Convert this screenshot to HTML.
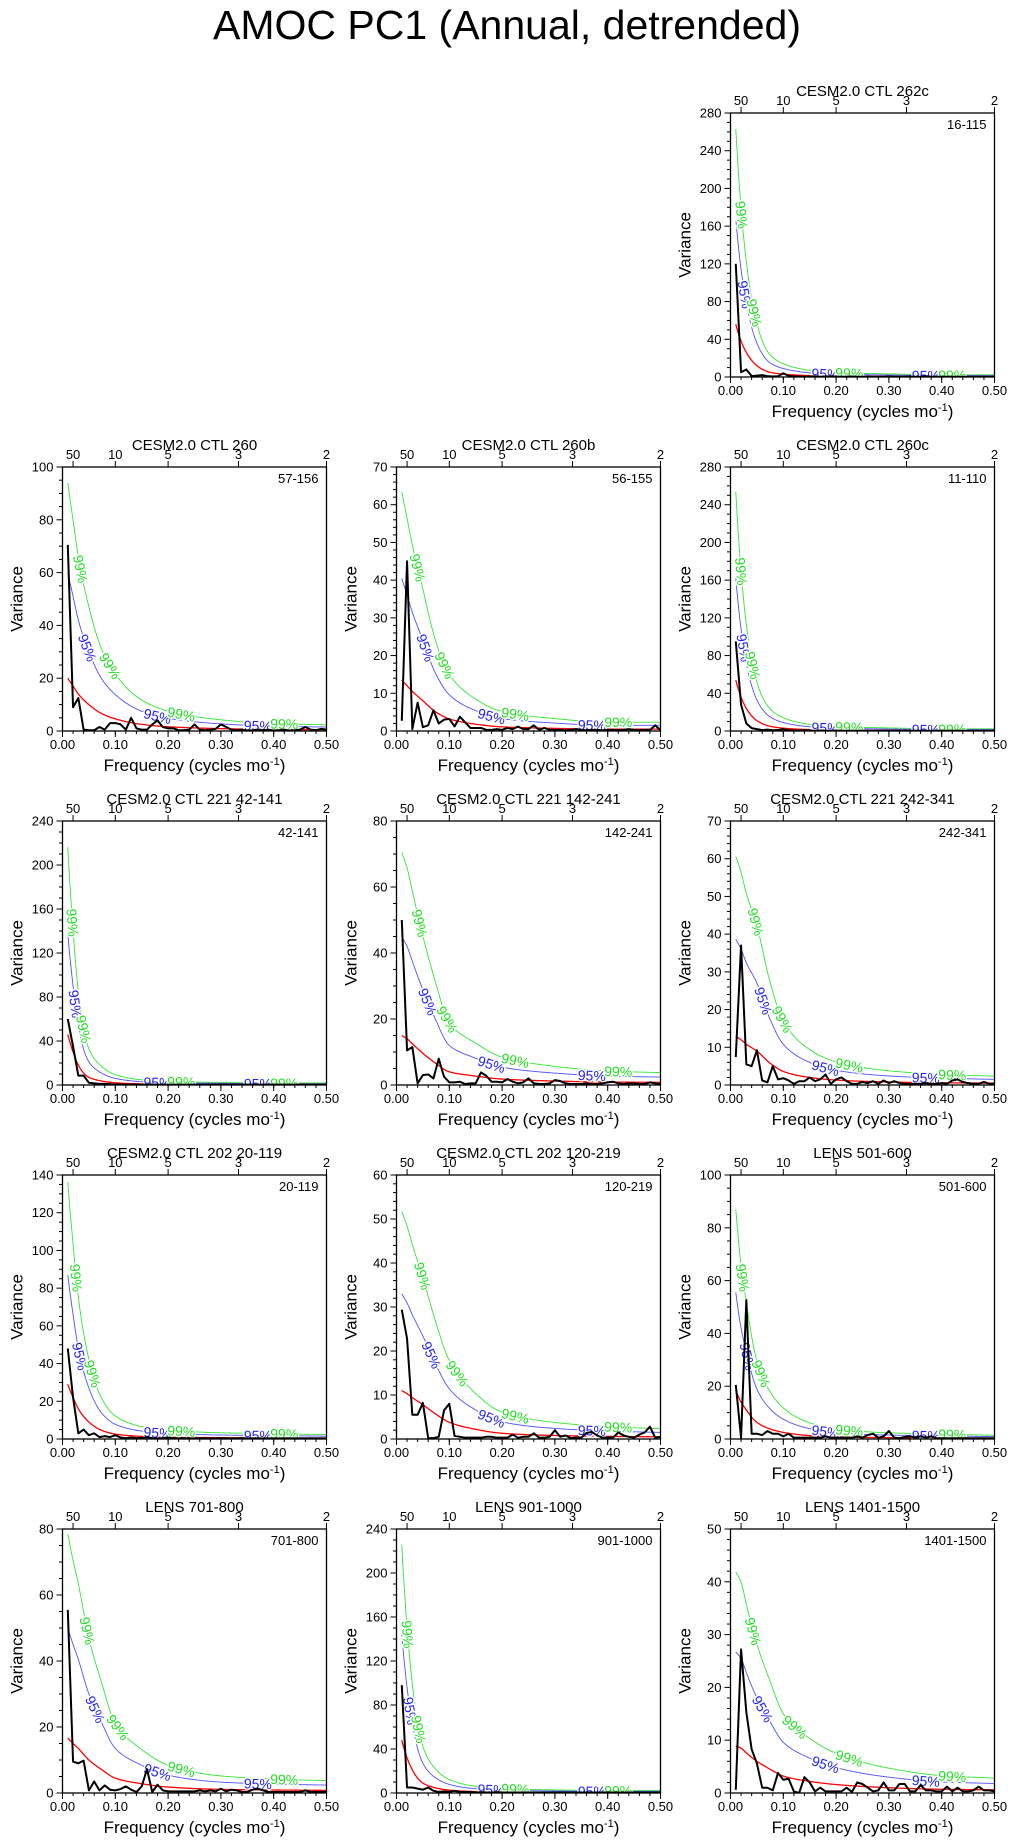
<!DOCTYPE html>
<html><head><meta charset="utf-8">
<style>
html,body{margin:0;padding:0;background:#fff;}
svg{display:block;font-family:"Liberation Sans",sans-serif;}
</style></head>
<body>
<svg id="fig" width="1013" height="1842" viewBox="0 0 1013 1842">
<text x="507" y="39" font-size="41" text-anchor="middle">AMOC PC1 (Annual, detrended)</text>
</svg>
<script>
// ---- data ----
const freqs = [];
for (let k = 1; k <= 50; k++) freqs.push(k / 100);
const redFreqs = [0.01,0.02,0.03,0.05,0.075,0.1,0.15,0.2,0.3,0.4,0.5];
const xTicks = [0,0.1,0.2,0.3,0.4,0.5];
const xTickLabels = ["0.00","0.10","0.20","0.30","0.40","0.50"];
const periodTicks = [50,10,5,3,2];
const blueFactor = 3.0;
const greenFactor = 4.7;

const titles = ["CESM2.0 CTL 262c","CESM2.0 CTL 260","CESM2.0 CTL 260b","CESM2.0 CTL 260c",
"CESM2.0 CTL 221 42-141","CESM2.0 CTL 221 142-241","CESM2.0 CTL 221 242-341",
"CESM2.0 CTL 202 20-119","CESM2.0 CTL 202 120-219","LENS 501-600",
"LENS 701-800","LENS 901-1000","LENS 1401-1500"];
const ranges = ["16-115","57-156","56-155","11-110","42-141","142-241","242-341","20-119","120-219","501-600","701-800","901-1000","1401-1500"];
const yMaxes = [280,100,70,280,240,80,70,140,60,100,80,240,50];
const ySteps = [40,20,10,40,40,20,10,20,10,20,20,40,10];

const red262c = [56,38,26,12,5,3,1.5,1,0.7,0.5,0.5];
const red260  = [20,17,14,10,6.5,4.6,2.5,1.6,0.9,0.6,0.5];
const red260b = [13.5,12,10.5,8,5,3.2,1.8,1.1,0.7,0.5,0.5];
const red260c = [54,36,24,11,5,3,1.5,1,0.7,0.5,0.5];
const red221a = [46,30,18,7,3.5,2,1,0.7,0.5,0.4,0.4];
const red221b = [15,14,12.5,9.6,6.5,4,2.7,1.8,1.2,0.9,0.8];
const red221c = [12.9,12,10.8,9,5.8,3.6,2,1.3,0.8,0.6,0.5];
const red202a = [29,22,16,9,4.5,2.6,1.4,1,0.7,0.6,0.5];
const red202b = [11,10.3,9.4,7.8,5.6,3.8,2.2,1.3,0.8,0.6,0.5];
const red501  = [18.5,14,11,6.3,3.8,2.5,1.3,0.8,0.5,0.4,0.3];
const red701  = [16.7,15,13.5,10,7,4.5,2.8,1.8,1.1,0.9,0.8];
const red901  = [48,32,21,9,4.5,2.6,1.3,0.9,0.6,0.5,0.5];
const red1401 = [8.9,8.5,7.6,6,4.5,3.2,2.2,1.6,1,0.7,0.6];
const redSeries = [red262c,red260,red260b,red260c,red221a,red221b,red221c,red202a,red202b,red501,red701,red901,red1401];

const spec262c = [120,5,8,1,1.5,2,1,0.5,0.8,4,1.2,0.5,0.5,0.3,0.5,0.8,0.3,0.5,0.8,0.5,0.3,0.4,0.5,0.3,0.3,0.5,0.3,0.3,0.3,0.5,0.3,0.3,0.3,0.5,0.3,0.3,1,0.3,0.3,0.3,0.3,0.3,0.3,0.3,0.3,0.3,0.3,0.3,0.3,0.3];
const spec260 = [70.5,9,12.5,0.5,0.3,0.3,1.5,0.5,3,3,2.5,0.5,5,1,0.5,0.5,2.5,4,1.5,1,1,0.3,0.3,0.5,2.5,0.5,0.3,0.5,0.8,2.5,1.5,0.5,0.3,0.5,0.2,0.3,0.5,0.3,0.5,0.2,0.3,0.5,0.2,0.3,0.5,1.5,0.5,0.3,0.8,0.5];
const spec260b = [2.7,45,0.5,7.5,1,1.5,5.5,2,3,3.2,1.2,3.8,2.3,0.8,0.8,0.8,0.3,0.3,0.5,0.3,0.8,0.5,1.2,0.5,0.5,1.5,0.3,0.8,0.3,0.3,0.3,0.2,0.3,0.5,0.3,0.2,0.3,0.3,0.2,0.3,0.3,0.2,0.3,0.5,0.3,0.2,0.3,0.3,1.5,0.2];
const spec260c = [95,28,8,3,2,1,1.5,0.8,1,2,0.8,0.5,0.5,0.8,0.5,0.3,0.5,0.3,0.3,0.5,0.3,0.3,0.3,0.3,0.3,0.3,0.3,0.3,0.3,0.3,0.3,0.3,0.3,0.3,0.3,0.3,0.3,0.3,0.3,0.3,0.3,0.3,0.3,0.3,0.3,0.3,0.3,0.3,0.3,0.3];
const spec221a = [60,35,8.5,8.5,2,1.5,1,1,0.8,0.5,0.5,0.5,0.3,0.5,0.3,0.3,0.5,0.3,0.3,0.3,0.3,0.3,0.3,0.3,0.3,0.3,0.3,0.3,0.3,0.3,0.3,0.3,0.3,0.3,0.3,0.3,0.3,0.3,0.3,0.3,0.3,0.3,0.3,0.3,0.3,0.3,0.3,0.3,0.3,0.3];
const spec221b = [50,10.5,11.5,0.5,3,3.2,2,8,2.5,0.8,0.8,1,0.3,0.5,0.5,3.8,2.8,1,1,0.8,1.8,1,0.5,0.8,2,0.5,0.3,0.3,0.5,1.5,1.2,0.5,0.3,0.3,0.3,0.5,0.3,0.3,0.5,0.8,1,0.5,0.3,0.5,0.5,0.3,0.3,0.8,0.5,0.3];
const spec221c = [7.4,37,5.5,5,9.2,1.2,0.7,5,1.5,1.8,1.2,0.3,1,1,2,1,1.5,2.8,0.3,1.5,2,1,0.3,0.3,0.8,0.5,1,0.3,1.2,0.5,1,0.5,0.3,0.3,0.3,0.3,0.5,0.3,0.3,0.5,0.3,1.2,1.5,0.8,0.5,0.3,0.3,0.8,0.3,0.3];
const spec202a = [48,22,3,5,2,3,1,1.5,1,2,0.8,0.5,0.8,0.5,0.5,1,0.5,0.3,0.5,0.8,0.5,0.3,0.5,0.3,0.3,0.5,0.3,0.3,0.3,0.5,0.3,0.3,0.3,0.5,0.3,0.3,0.3,0.3,0.3,0.3,0.3,0.3,0.3,0.3,0.3,0.3,0.3,0.3,0.3,0.3];
const spec202b = [29.4,22.8,5.5,5.5,8.2,0.2,0.2,0.5,6.5,8,0.7,0.5,0.3,0.3,0.3,0.3,0.5,0.5,0.3,0.3,0.3,1,0.3,0.5,0.5,1.3,0.3,0.3,0.5,2,0.5,0.8,0.2,0.3,0.3,1.4,1.6,0.8,0.3,0.3,0.3,1.5,0.8,0.5,0.3,1,1.5,2.8,0.3,0.5];
const spec501 = [20.5,0.5,52.6,2,2,1.5,3,2,2,1,2,0.5,0.5,0.5,0.5,0.5,0.5,1,0.5,0.5,0.5,0.5,0.5,1,0.5,1.5,2,0.5,1,3,0.5,0.3,0.8,1,0.5,1,0.5,1,0.3,0.3,0.3,0.3,0.3,0.3,0.3,0.3,0.3,0.3,0.3,0.3];
const spec701 = [55.5,9.5,9,9.8,0.8,3.5,0.8,2.3,1,0.8,1.2,2,1,0.3,2,7.2,0.3,2.5,0.8,0.5,0.5,0.5,0.5,0.5,0.5,0.8,0.5,0.8,0.5,1.3,0.5,1,0.8,0.3,0.3,1,1.3,0.8,0.3,0.3,0.3,0.3,0.3,0.3,0.3,0.8,0.3,0.3,0.3,0.3];
const spec901 = [98,5,5,4,3,5,2,1,1.5,1,2,1,0.8,1,0.5,0.8,0.5,0.5,0.8,0.5,0.5,0.5,0.5,0.5,0.5,0.5,0.5,0.5,0.5,0.5,0.5,0.5,0.5,0.5,0.5,0.5,0.5,0.5,0.5,0.5,0.5,0.5,0.5,0.5,0.5,0.5,0.5,0.5,0.5,0.5];
const spec1401 = [0.6,27.2,15.3,8.3,5.6,1,1,0.5,3.8,2.5,2.7,0.3,0,3,2,0.3,1,0.3,0.3,0.3,0.3,1,0.2,2,1.7,1,0.3,0.5,2,0.5,0.5,1.7,1.7,0.3,0.3,1.5,0.5,0.5,0.3,0.3,1.2,0.3,1,0.3,0.3,0.5,1.2,0.5,0.5,0.3];
const specSeries = [spec262c,spec260,spec260b,spec260c,spec221a,spec221b,spec221c,spec202a,spec202b,spec501,spec701,spec901,spec1401];

// ---- layout ----
const colLeft = [62.5,396.5,730.5];
const rowTop = [113,467,821,1175,1529];
const W = 264, H = 264;
const slots = [[0,2],[1,0],[1,1],[1,2],[2,0],[2,1],[2,2],[3,0],[3,1],[3,2],[4,0],[4,1],[4,2]];
const NS = "http://www.w3.org/2000/svg";
const fig = document.getElementById('fig');

function mk(tag, attrs, parent) {
  const e = document.createElementNS(NS, tag);
  for (const k in attrs) e.setAttribute(k, attrs[k]);
  parent.appendChild(e);
  return e;
}
// monotone cubic (Fritsch-Carlson) through log of red samples
function redAt(vals, f) {
  const xs = redFreqs, ys = vals.map(v => Math.log(v)), n = xs.length;
  const d = [], m = new Array(n);
  for (let i = 0; i < n - 1; i++) d.push((ys[i + 1] - ys[i]) / (xs[i + 1] - xs[i]));
  m[0] = d[0]; m[n - 1] = d[n - 2];
  for (let i = 1; i < n - 1; i++) m[i] = (d[i - 1] * d[i] <= 0) ? 0 : 3 * (xs[i+1]-xs[i-1]) / ((2*xs[i+1]-xs[i]-xs[i-1]) / d[i-1] + (xs[i+1]+xs[i]-2*xs[i-1]) / d[i]);
  if (f <= xs[0]) return vals[0];
  if (f >= xs[n - 1]) return vals[n - 1];
  let i = 0;
  while (f > xs[i + 1]) i++;
  const h = xs[i + 1] - xs[i], t = (f - xs[i]) / h;
  const h00 = 2*t*t*t - 3*t*t + 1, h10 = t*t*t - 2*t*t + t, h01 = -2*t*t*t + 3*t*t, h11 = t*t*t - t*t;
  return Math.exp(h00 * ys[i] + h10 * h * m[i] + h01 * ys[i + 1] + h11 * h * m[i + 1]);
}

slots.forEach((s, p) => {
  const L = colLeft[s[1]], T = rowTop[s[0]], B = T + H, R = L + W;
  const ymax = yMaxes[p], step = ySteps[p];
  const xs = f => L + f / 0.5 * W;
  const ys = v => B - Math.min(v, ymax) / ymax * H;
  const g = mk('g', {}, fig);
  
  

  const t = mk('text', {x: L + W / 2, y: T - 17, 'font-size': 15, 'text-anchor': 'middle'}, g);
  t.textContent = titles[p];
  
  

  const cid = 'clip' + p;
  const cp = mk('clipPath', {id: cid}, g);
  mk('rect', {x: L, y: T, width: W, height: H}, cp);
  const plot = mk('g', {'clip-path': 'url(#' + cid + ')'}, g);

  const curve = (factor, color, width, name) => {
    let d = '';
    for (let f = 0.01; f <= 0.5001; f += 0.002) {
      d += (d ? 'L' : 'M') + xs(f).toFixed(2) + ',' + ys(redAt(redSeries[p], f) * factor).toFixed(2);
    }
    const e = mk('path', {d: d, fill: 'none', stroke: color, 'stroke-width': width}, plot);
    
    
  };
  curve(greenFactor, '#33e633', 0.9, 'ci-99-line');
  curve(blueFactor, '#5050ff', 0.9, 'ci-95-line');
  curve(1, '#ff0000', 1.3, 'red-noise-line');

  const label = (factor, f, txt, color, name) => {
    const v = redAt(redSeries[p], f) * factor;
    const x = xs(f), y = ys(v);
    const y2 = ys(redAt(redSeries[p], f + 0.004) * factor), x2 = xs(f + 0.004);
    let ang = Math.atan2(y2 - y, x2 - x) * 180 / Math.PI;
    const e = mk('text', {x: x, y: y + 5, 'font-size': 14, fill: color, 'text-anchor': 'middle',
      stroke: '#fff', 'stroke-width': 3, 'paint-order': 'stroke',
      transform: 'rotate(' + ang.toFixed(1) + ' ' + x.toFixed(1) + ' ' + y.toFixed(1) + ')'}, plot);
    e.textContent = txt;
    
    
  };
  const fAt = (factor, frac) => {
    for (let f = 0.01; f < 0.5; f += 0.001) if (redAt(redSeries[p], f) * factor < frac * ymax) return f;
    return 0.05;
  };
  label(greenFactor, Math.max(fAt(greenFactor, 0.62), 0.018), '99%', '#22dd22', 'ci-99-label');
  label(blueFactor, Math.max(fAt(blueFactor, 0.32), 0.02), '95%', '#2222ee', 'ci-95-label');
  label(greenFactor, Math.max(fAt(greenFactor, 0.25), 0.04), '99%', '#22dd22', 'ci-99-label');
  label(blueFactor, 0.18, '95%', '#2222ee', 'ci-95-label');
  label(greenFactor, 0.225, '99%', '#22dd22', 'ci-99-label');
  label(blueFactor, 0.37, '95%', '#2222ee', 'ci-95-label');
  label(greenFactor, 0.42, '99%', '#22dd22', 'ci-99-label');

  let d = '';
  specSeries[p].forEach((v, i) => { d += (i ? 'L' : 'M') + xs(freqs[i]).toFixed(2) + ',' + ys(v).toFixed(2); });
  const sp = mk('path', {d: d, fill: 'none', stroke: '#000', 'stroke-width': 2, 'stroke-linejoin': 'round'}, plot);
  
  

  const fr = mk('rect', {x: L, y: T, width: W, height: H, fill: 'none', stroke: '#000', 'stroke-width': 1.3}, g);
  
  

  const minor = step === 10 ? 2 : step / 4;
  for (let v = 0; v <= ymax + 1e-9; v += minor) {
    const isMaj = Math.abs(v / step - Math.round(v / step)) < 1e-6;
    mk('line', {x1: L, x2: L - (isMaj ? 6 : 3.5), y1: ys(v), y2: ys(v), stroke: '#000', 'stroke-width': 1}, g);
    if (isMaj) {
      const tl = mk('text', {x: L - 9, y: ys(v) + 4.5, 'font-size': 13, 'text-anchor': 'end'}, g);
      tl.textContent = Math.round(v);
      
      
    }
  }
  for (let f = 0; f <= 0.5001; f += 0.02) {
    mk('line', {x1: xs(f), x2: xs(f), y1: B, y2: B + 3, stroke: '#000', 'stroke-width': 1}, g);
  }
  xTicks.forEach((f, i) => {
    mk('line', {x1: xs(f), x2: xs(f), y1: B, y2: B + 6, stroke: '#000', 'stroke-width': 1}, g);
    const tl = mk('text', {x: xs(f), y: B + 18, 'font-size': 13, 'text-anchor': 'middle'}, g);
    tl.textContent = xTickLabels[i];
    
    
  });
  periodTicks.forEach(per => {
    const x = xs(1 / per);
    mk('line', {x1: x, x2: x, y1: T, y2: T - 6, stroke: '#000', 'stroke-width': 1}, g);
    const tl = mk('text', {x: x, y: T - 8, 'font-size': 13, 'text-anchor': 'middle'}, g);
    tl.textContent = per;
    
    
  });
  const rl = mk('text', {x: R - 8, y: T + 16, 'font-size': 13, 'text-anchor': 'end'}, g);
  rl.textContent = ranges[p];
  
  
  const yt = mk('text', {x: L - 46, y: T + H / 2, 'font-size': 17, 'text-anchor': 'middle',
    transform: 'rotate(-90 ' + (L - 46) + ' ' + (T + H / 2) + ')', dy: 6}, g);
  yt.textContent = 'Variance';
  
  
  const xt = mk('text', {x: L + W / 2, y: B + 40, 'font-size': 17, 'text-anchor': 'middle'}, g);
  xt.innerHTML = 'Frequency (cycles mo<tspan dy="-6" font-size="11">-1</tspan><tspan dy="6">)</tspan>';
  
  
});
</script>
</body></html>
